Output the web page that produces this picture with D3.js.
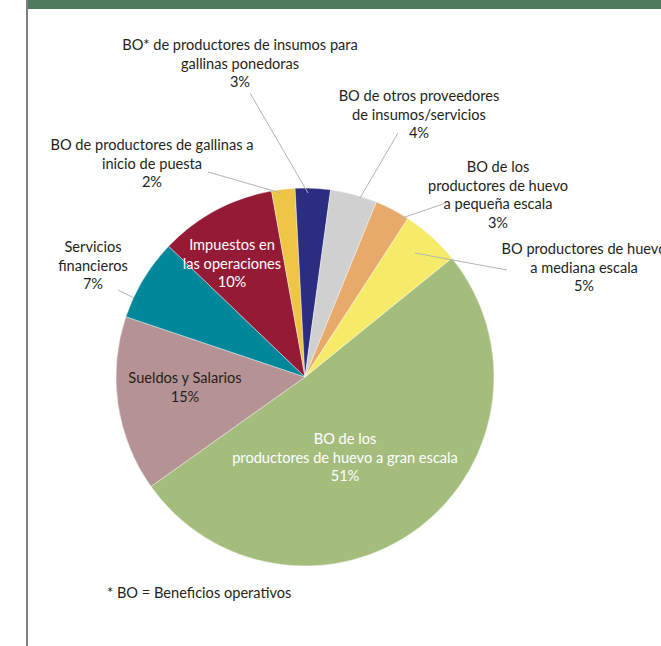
<!DOCTYPE html>
<html>
<head>
<meta charset="utf-8">
<script src="https://cdn.jsdelivr.net/npm/d3@7"></script>
<style>
  html, body { margin: 0; padding: 0; background: #fff; }
  svg { display: block; }
  text { font-family: "Lato", "Open Sans", sans-serif; }
</style>
</head>
<body>
<svg id="chart" width="661" height="646"></svg>
<script>
// ---- Data ----
const categories = [
  "BO de los productores de huevo a gran escala",
  "Sueldos y Salarios",
  "Servicios financieros",
  "Impuestos en las operaciones",
  "BO de productores de gallinas a inicio de puesta",
  "BO* de productores de insumos para gallinas ponedoras",
  "BO de otros proveedores de insumos/servicios",
  "BO de los productores de huevo a pequeña escala",
  "BO productores de huevo a mediana escala"
];
const values = [51, 15, 7, 10, 2, 3, 4, 3, 5];
const colors = ["#a4bd7d", "#b59394", "#00879a", "#951a36", "#efc545", "#2b2e80", "#d0d0d0", "#e8aa6a", "#f6eb69"];
const labelLines = [
  ["BO de los", "productores de huevo a gran escala", "51%"],
  ["Sueldos y Salarios", "15%"],
  ["Servicios", "financieros", "7%"],
  ["Impuestos en", "las operaciones", "10%"],
  ["BO de productores de gallinas a", "inicio de puesta", "2%"],
  ["BO* de productores de insumos para", "gallinas ponedoras", "3%"],
  ["BO de otros proveedores", "de insumos/servicios", "4%"],
  ["BO de los", "productores de huevo", "a pequeña escala", "3%"],
  ["BO productores de huevo", "a mediana escala", "5%"]
];
const footnote = "* BO = Beneficios operativos";

// ---- Layout (positions, not data) ----
const cx = 305, cy = 377, R = 189;
const lineH = 18.5;
// label anchor: [x, first-baseline y, fill]
const labelPos = [
  [345, 444, "#ffffff"],
  [185, 383, "#231f20"],
  [93, 252, "#231f20"],
  [232, 250, "#ffffff"],
  [152, 150, "#231f20"],
  [240, 50, "#231f20"],
  [419, 101, "#231f20"],
  [498, 172, "#231f20"],
  [584, 254, "#231f20"]
];
// leader lines: null for inside labels; [x1,y1,x2,y2]
const leaders = [
  null, null,
  [118, 290, 134, 298],
  null,
  [208, 172, 281, 193],
  [250, 93, 308, 193],
  [398, 133, 360, 198],
  [402, 218, 446, 203],
  [415, 253, 507, 270]
];

const svg = d3.select("#chart");

// frame
svg.append("rect").attr("x", 27).attr("y", 0).attr("width", 634).attr("height", 9).attr("fill", "#4d7a5c");
svg.append("rect").attr("x", 26).attr("y", 0).attr("width", 2).attr("height", 646).attr("fill", "#808080");

const pie = d3.pie().sort(null).value(d => d)
  .startAngle(51 * Math.PI / 180)
  .endAngle(51 * Math.PI / 180 + 2 * Math.PI);
const arcs = pie(values);
const arc = d3.arc().innerRadius(0).outerRadius(R);

const g = svg.append("g").attr("transform", `translate(${cx},${cy})`);
g.selectAll("path").data(arcs).join("path")
  .attr("d", arc)
  .attr("fill", (d, i) => colors[i])
  .attr("stroke", "#ffffff").attr("stroke-width", 0.4);

// leader lines
svg.selectAll("line.leader").data(leaders.filter(d => d)).join("line")
  .attr("class", "leader")
  .attr("x1", d => d[0]).attr("y1", d => d[1])
  .attr("x2", d => d[2]).attr("y2", d => d[3])
  .attr("stroke", "#b3b3b3").attr("stroke-width", 1);

// labels
labelLines.forEach((lines, i) => {
  const [x, y, fill] = labelPos[i];
  const t = svg.append("text")
    .attr("text-anchor", "middle")
    .attr("font-size", 14.6)
    .attr("fill", fill);
  lines.forEach((ln, j) => {
    t.append("tspan").attr("x", x).attr("y", y + j * lineH).text(ln);
  });
});

svg.append("text").attr("x", 107).attr("y", 598)
  .attr("font-size", 14.6).attr("fill", "#231f20").text(footnote);
</script>
</body>
</html>
